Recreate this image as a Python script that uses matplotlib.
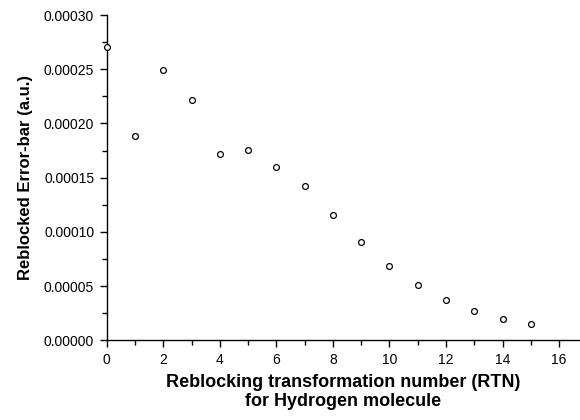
import matplotlib
matplotlib.use("Agg")
import matplotlib.pyplot as plt
from matplotlib.ticker import MultipleLocator, FormatStrFormatter

rtn = [0, 1, 2, 3, 4, 5, 6, 7, 8, 9, 10, 11, 12, 13, 14, 15]
error_bar = [0.000271, 0.0001886, 0.0002492, 0.0002218, 0.000172, 0.0001757,
             0.00016, 0.000142, 0.0001151, 0.0000902, 0.0000683, 0.0000505,
             0.0000369, 0.0000268, 0.0000197, 0.0000145]

plt.rcParams['font.family'] = ['Liberation Sans', 'DejaVu Sans']

fig = plt.figure(figsize=(5.8, 4.2), dpi=100)
ax = fig.add_axes([0.184, 0.19, 0.814, 0.774])
ax.plot(rtn, error_bar, linestyle='none', marker='o', markersize=4.2,
        markerfacecolor='white', markeredgecolor='black', markeredgewidth=0.9,
        clip_on=False, zorder=3)

ax.set_xlim(0, 16.7)
ax.set_ylim(0, 0.0003)
ax.spines['top'].set_visible(False)
ax.spines['right'].set_visible(False)
for s in ('left', 'bottom'):
    ax.spines[s].set_linewidth(1.0)

ax.xaxis.set_major_locator(MultipleLocator(2))
ax.xaxis.set_minor_locator(MultipleLocator(1))
ax.yaxis.set_major_locator(MultipleLocator(0.00005))
ax.yaxis.set_minor_locator(MultipleLocator(0.000025))
ax.yaxis.set_major_formatter(FormatStrFormatter('%.5f'))
ax.tick_params(which='major', direction='out', length=5, width=1, labelsize=10, pad=4)
ax.tick_params(which='minor', direction='out', length=3.5, width=1)

ax.set_xlabel('Reblocking transformation number (RTN)\nfor Hydrogen molecule',
              fontsize=13, fontweight='bold', linespacing=1.2, labelpad=5)
ax.set_ylabel('Reblocked Error-bar (a.u.)', fontsize=12, fontweight='bold', labelpad=8)

fig.savefig('out.png', dpi=100)
